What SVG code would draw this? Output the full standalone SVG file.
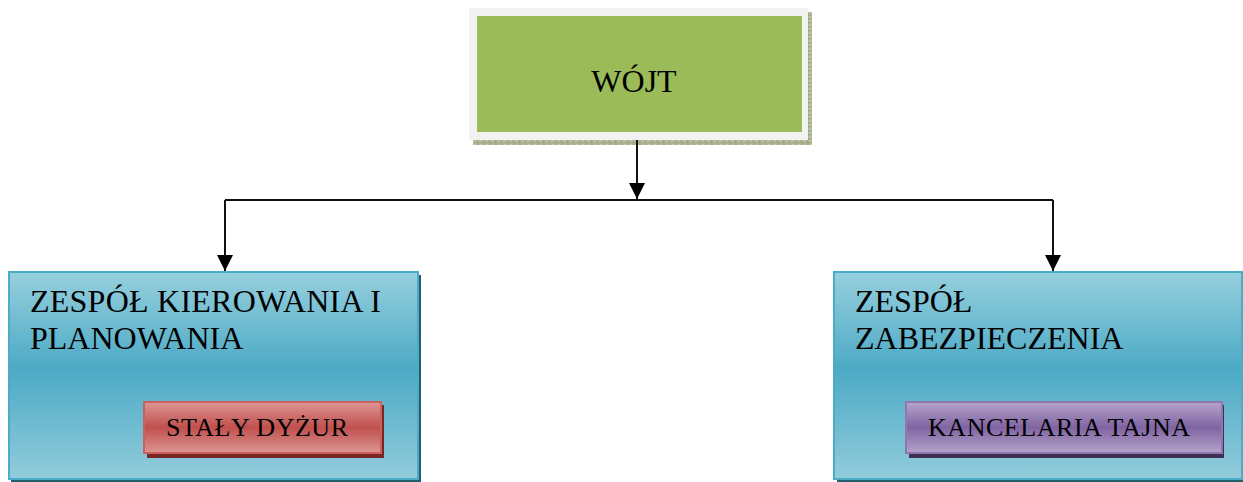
<svg xmlns="http://www.w3.org/2000/svg" width="1243" height="482" viewBox="0 0 1243 482">
  <defs>
    <linearGradient id="gBlue" x1="0" y1="0" x2="0" y2="1">
      <stop offset="0" stop-color="#96cfde"/>
      <stop offset="0.47" stop-color="#4caac5"/>
      <stop offset="1" stop-color="#92ccdc"/>
    </linearGradient>
    <linearGradient id="gRed" x1="0" y1="0" x2="0" y2="1">
      <stop offset="0" stop-color="#dc9694"/>
      <stop offset="0.5" stop-color="#c0504d"/>
      <stop offset="1" stop-color="#dc9694"/>
    </linearGradient>
    <linearGradient id="gPurple" x1="0" y1="0" x2="0" y2="1">
      <stop offset="0" stop-color="#b6a4cb"/>
      <stop offset="0.5" stop-color="#8064a2"/>
      <stop offset="1" stop-color="#b6a4cb"/>
    </linearGradient>
    <pattern id="pTexture" width="6" height="4" patternUnits="userSpaceOnUse">
      <rect width="6" height="4" fill="#a9b38f"/>
      <rect x="0" y="0" width="2" height="1" fill="#c3c9ae"/>
      <rect x="3" y="2" width="2" height="1" fill="#8f9a78"/>
      <rect x="5" y="1" width="1" height="1" fill="#d0d5c0"/>
    </pattern>
    <marker id="arrow" markerUnits="userSpaceOnUse" markerWidth="16" markerHeight="16" refX="16" refY="8" orient="auto" viewBox="0 0 16 16">
      <path d="M0,0 L16,8 L0,16 Z" fill="#000"/>
    </marker>
  </defs>
  <style>
    .label { font-family: "Liberation Serif", "Times New Roman", serif; fill: #000; }
    .big { font-size: 32px; }
    .small { font-size: 26px; }
    .conn { fill: none; stroke: #111; stroke-width: 2; }
    .group { fill: url(#gBlue); stroke: #4bacc6; stroke-width: 2; }
  </style>

  <rect width="1243" height="482" fill="#fff"/>

  <!-- top node -->
  <g id="wojt">
    <rect x="473" y="12" width="339" height="133" fill="url(#pTexture)"/>
    <rect x="469" y="8" width="339" height="132" fill="#f2f2f2"/>
    <rect x="477" y="16" width="325" height="116" fill="#9bbb59"/>
    <text class="label big" x="634" y="92" text-anchor="middle">WÓJT</text>
  </g>

  <!-- connectors -->
  <g id="connectors">
    <path class="conn" d="M637,140 L637,199" marker-end="url(#arrow)"/>
    <path class="conn" d="M225,200 L1053,200"/>
    <path class="conn" d="M225,200 L225,271" marker-end="url(#arrow)"/>
    <path class="conn" d="M1053,200 L1053,271" marker-end="url(#arrow)"/>
  </g>

  <!-- left group -->
  <g id="zespol-kierowania">
    <rect x="11" y="275" width="410" height="210" fill="#215f6e"/>
    <rect class="group" x="9" y="272" width="409" height="207"/>
    <text class="label big" x="30" y="312" textLength="351" lengthAdjust="spacing">ZESPÓŁ KIEROWANIA I</text>
    <text class="label big" x="30" y="349">PLANOWANIA</text>
  </g>

  <g id="staly-dyzur">
    <rect x="147" y="405" width="237" height="53" fill="#7a2624"/>
    <rect x="144" y="402" width="237" height="51" fill="url(#gRed)" stroke="#c9615e" stroke-width="2"/>
    <text class="label small" x="166" y="436" textLength="182" lengthAdjust="spacing">STAŁY DYŻUR</text>
  </g>

  <!-- right group -->
  <g id="zespol-zabezpieczenia">
    <rect x="837" y="275" width="410" height="210" fill="#215f6e"/>
    <rect class="group" x="834" y="272" width="408" height="207"/>
    <text class="label big" x="855" y="312">ZESPÓŁ</text>
    <text class="label big" x="855" y="349">ZABEZPIECZENIA</text>
  </g>

  <g id="kancelaria-tajna">
    <rect x="909" y="405" width="315" height="53" fill="#3d3052"/>
    <rect x="906" y="402" width="316" height="51" fill="url(#gPurple)" stroke="#9077b2" stroke-width="2"/>
    <text class="label small" x="928" y="436" textLength="262" lengthAdjust="spacing">KANCELARIA TAJNA</text>
  </g>
</svg>
